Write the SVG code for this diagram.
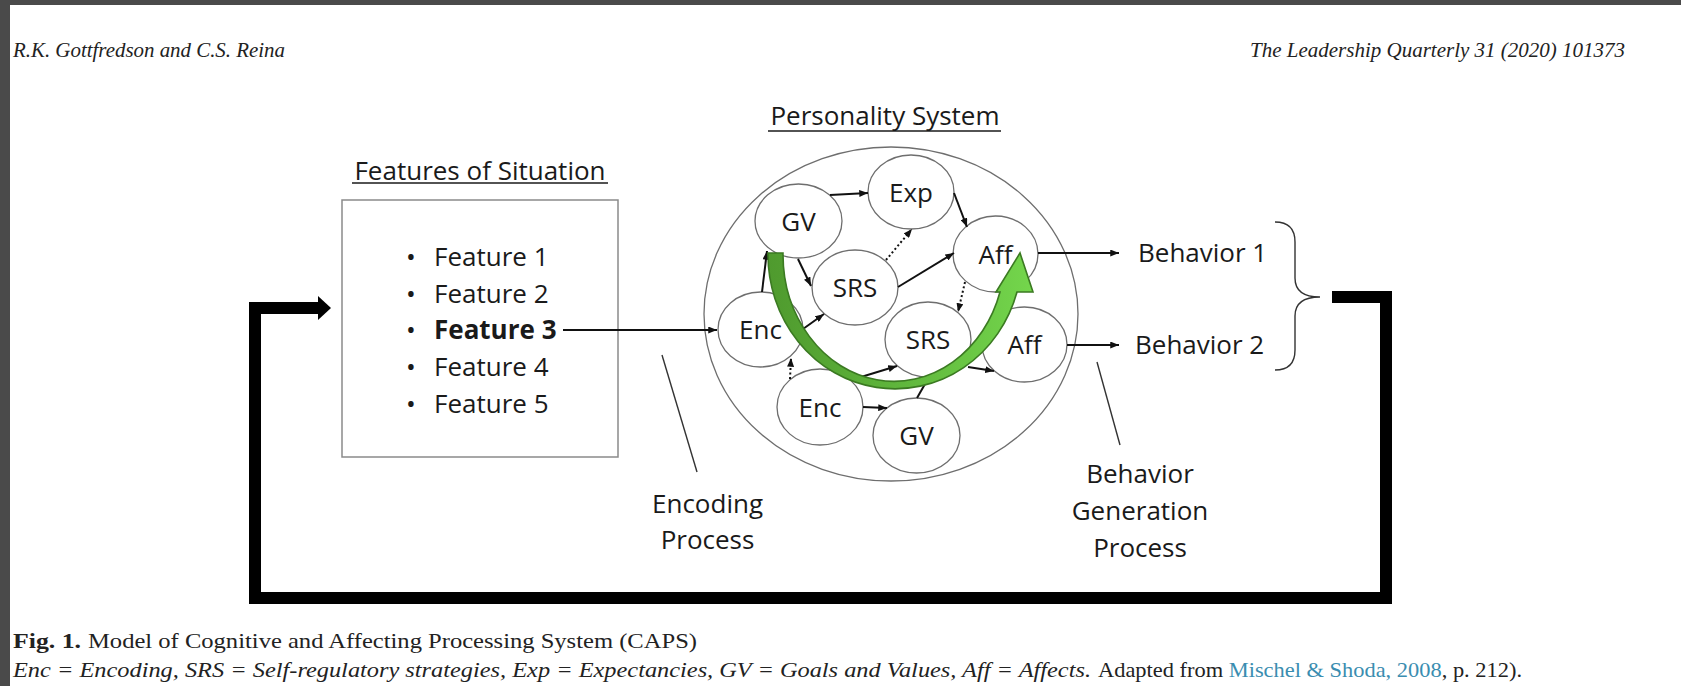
<svg xmlns="http://www.w3.org/2000/svg" width="1681" height="686" viewBox="0 0 1681 686">
<style>
.t{font-family:"Open Sans","Noto Sans",sans-serif;font-size:26px;fill:#1a1a1a}
.c{text-anchor:middle}
.node{fill:#fff;stroke:#6e6e6e;stroke-width:1.3}
.con{stroke:#111;stroke-width:2;fill:none}
.dot{stroke:#111;stroke-width:2;fill:none;stroke-dasharray:2 2.5}
.thin{stroke:#333;stroke-width:1.4;fill:none}
.hdr{font-family:"Liberation Serif",serif;font-style:italic;font-size:20px;fill:#222}
.cap{font-family:"Liberation Serif",serif;font-size:21px;fill:#222}
.link{fill:#3a8db0}
</style>
<defs>
<marker id="ah" viewBox="0 0 10 8" refX="10" refY="4" markerWidth="9" markerHeight="7" markerUnits="userSpaceOnUse" orient="auto">
<path d="M0,0 L10,4 L0,8 z" fill="#111"/>
</marker>
<linearGradient id="gg" x1="0" y1="0" x2="1" y2="0">
<stop offset="0" stop-color="#4f9a2e"/>
<stop offset="0.5" stop-color="#5fb63c"/>
<stop offset="1" stop-color="#74d64c"/>
</linearGradient>
</defs>
<rect x="0" y="0" width="1681" height="686" fill="#fff"/>
<rect x="0" y="0" width="1681" height="5" fill="#4a4a4a"/>
<rect x="0" y="0" width="10" height="686" fill="#4a4a4a"/>

<text class="hdr" x="13" y="57" textLength="272" lengthAdjust="spacingAndGlyphs">R.K. Gottfredson and C.S. Reina</text>
<text class="hdr" x="1250" y="57" textLength="375" lengthAdjust="spacingAndGlyphs">The Leadership Quarterly 31 (2020) 101373</text>

<g id="features">
<text class="t c" x="480" y="180">Features of Situation</text>
<line x1="352" y1="183" x2="608" y2="183" stroke="#1a1a1a" stroke-width="1.5"/>
<rect x="342" y="200" width="276" height="257" fill="#fff" stroke="#8a8a8a" stroke-width="1.5"/>
<text class="t" x="406" y="266">•</text><text class="t" x="434" y="266">Feature 1</text>
<text class="t" x="406" y="303">•</text><text class="t" x="434" y="303">Feature 2</text>
<text class="t" x="406" y="339">•</text><text class="t" x="434" y="339" font-weight="bold">Feature 3</text>
<text class="t" x="406" y="376">•</text><text class="t" x="434" y="376">Feature 4</text>
<text class="t" x="406" y="413">•</text><text class="t" x="434" y="413">Feature 5</text>
</g>

<g id="personality">
<text class="t c" x="885" y="125">Personality System</text>
<line x1="768" y1="131" x2="1001" y2="131" stroke="#1a1a1a" stroke-width="1.5"/>
<ellipse cx="891" cy="314" rx="187" ry="167" fill="#fff" stroke="#6e6e6e" stroke-width="1.3"/>
</g>

<g id="n-gv1"><ellipse class="node" cx="798.5" cy="221" rx="43.5" ry="37"/><text class="t c" x="798.5" y="231">GV</text></g>
<g id="n-exp"><ellipse class="node" cx="911" cy="192" rx="43" ry="37"/><text class="t c" x="911" y="202">Exp</text></g>
<g id="n-srs1"><ellipse class="node" cx="855" cy="287.5" rx="43" ry="37.5"/><text class="t c" x="855" y="297">SRS</text></g>
<g id="n-aff1"><ellipse class="node" cx="995.5" cy="254" rx="42.5" ry="38"/><text class="t c" x="995.5" y="263.5">Aff</text></g>
<g id="n-enc1"><ellipse class="node" cx="760.5" cy="329.5" rx="42.5" ry="37.5"/><text class="t c" x="760.5" y="339">Enc</text></g>
<g id="n-srs2"><ellipse class="node" cx="928" cy="339.5" rx="43" ry="37.5"/><text class="t c" x="928" y="349">SRS</text></g>
<g id="n-aff2"><ellipse class="node" cx="1024.5" cy="344.5" rx="42.5" ry="37.5"/><text class="t c" x="1024.5" y="354">Aff</text></g>
<g id="n-enc2"><ellipse class="node" cx="820" cy="407" rx="43" ry="38"/><text class="t c" x="820" y="416.5">Enc</text></g>
<g id="n-gv2"><ellipse class="node" cx="916.5" cy="435.5" rx="43.5" ry="37.5"/><text class="t c" x="916.5" y="445">GV</text></g>

<g id="behaviors">
<text class="t" x="1138" y="262">Behavior 1</text>
<text class="t" x="1135" y="354">Behavior 2</text>
<path class="thin" d="M1275,222 Q1295,222 1295,242 L1295,278 Q1295,297 1320,297 Q1295,297 1295,316 L1295,350 Q1295,370 1275,370"/>
</g>

<g id="labels">
<text class="t c" x="707.5" y="513">Encoding</text>
<text class="t c" x="707.5" y="549">Process</text>
<text class="t c" x="1140" y="483">Behavior</text>
<text class="t c" x="1140" y="520">Generation</text>
<text class="t c" x="1140" y="557">Process</text>
</g>

<g id="connectors">
<line class="con" x1="563" y1="330" x2="717" y2="330" marker-end="url(#ah)"/>
<line class="con" x1="762" y1="292" x2="767" y2="251" marker-end="url(#ah)"/>
<line class="con" x1="798" y1="259" x2="811" y2="286" marker-end="url(#ah)"/>
<line class="con" x1="830" y1="195" x2="868" y2="193" marker-end="url(#ah)"/>
<line class="con" x1="954" y1="193" x2="967" y2="227" marker-end="url(#ah)"/>
<line class="dot" x1="886" y1="260" x2="912" y2="229" marker-end="url(#ah)"/>
<line class="con" x1="898" y1="287" x2="954" y2="253" marker-end="url(#ah)"/>
<line class="dot" x1="965" y1="282" x2="958" y2="312" marker-end="url(#ah)"/>
<line class="con" x1="803" y1="329" x2="824" y2="314" marker-end="url(#ah)"/>
<line class="dot" x1="790" y1="379" x2="791" y2="358" marker-end="url(#ah)"/>
<line class="con" x1="861" y1="377" x2="897" y2="366" marker-end="url(#ah)"/>
<line class="con" x1="968" y1="367" x2="994" y2="371" marker-end="url(#ah)"/>
<line class="con" x1="863" y1="407" x2="887" y2="408" marker-end="url(#ah)"/>
<line class="con" x1="917" y1="398" x2="929" y2="377"/>
<line class="con" x1="1038" y1="253" x2="1119" y2="253" marker-end="url(#ah)"/>
<line class="con" x1="1067" y1="345" x2="1119" y2="345" marker-end="url(#ah)"/>
<line class="thin" x1="662" y1="355" x2="697" y2="472"/>
<line class="thin" x1="1097" y1="362" x2="1120" y2="445"/>
<polyline points="1332,297 1386,297 1386,598 255,598 255,308 320,308" fill="none" stroke="#000" stroke-width="12" stroke-linejoin="miter"/>
<polygon points="318,296 331,308 318,320" fill="#000"/>
</g>

<g id="green-arrow">
<path d="M768,253 A127,134 0 0 0 1017,292 L1033,292 L1020,253 L996,292 L1000,292 A111,127 0 0 1 783,253 Z" fill="url(#gg)" stroke="#3b7a22" stroke-width="1.6" stroke-linejoin="miter"/>
</g>

<g id="caption">
<text class="cap" x="13" y="648" font-weight="bold" textLength="68" lengthAdjust="spacingAndGlyphs">Fig. 1.</text>
<text class="cap" x="88" y="648" textLength="609" lengthAdjust="spacingAndGlyphs">Model of Cognitive and Affecting Processing System (CAPS)</text>
<text class="cap" x="13" y="677" font-style="italic" textLength="1078" lengthAdjust="spacingAndGlyphs">Enc = Encoding, SRS = Self-regulatory strategies, Exp = Expectancies, GV = Goals and Values, Aff = Affects.</text>
<text class="cap" x="1098" y="677" font-size="22" textLength="424" lengthAdjust="spacingAndGlyphs">Adapted from <tspan class="link">Mischel &amp; Shoda, 2008</tspan>, p. 212).</text>
</g>
</svg>
